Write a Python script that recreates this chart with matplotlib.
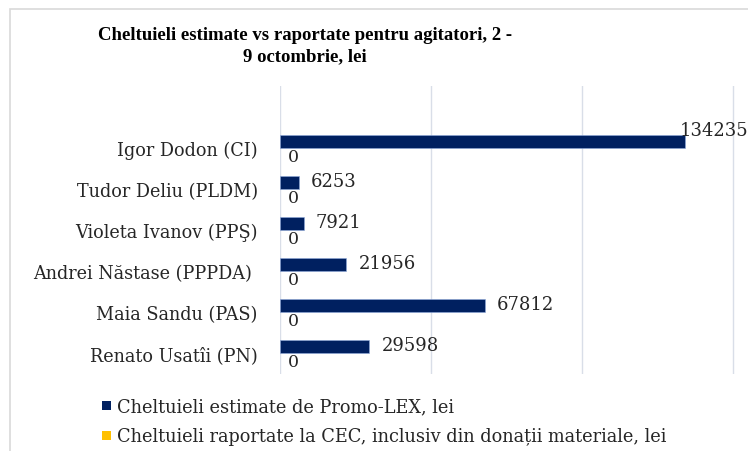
import numpy as np
import matplotlib
matplotlib.use("Agg")
import matplotlib.pyplot as plt
from matplotlib.patches import Rectangle

categories = ["Igor Dodon (CI)", "Tudor Deliu (PLDM)", "Violeta Ivanov (PPŞ)",
              "Andrei Năstase (PPPDA) ", "Maia Sandu (PAS)", "Renato Usatîi (PN)"]
estimate = [134235, 6253, 7921, 21956, 67812, 29598]
reported = [0, 0, 0, 0, 0, 0]
series_names = ["Cheltuieli estimate de Promo-LEX, lei",
                "Cheltuieli raportate la CEC, inclusiv din donații materiale, lei"]
title = "Cheltuieli estimate vs raportate pentru agitatori, 2 -\n9 octombrie, lei"

navy = "#002060"
gold = "#FFC000"
W, H = 748, 452

fig = plt.figure(figsize=(W / 100, H / 100), dpi=100)

# light frame round the chart area
fig.patches.append(Rectangle((10 / W, -0.1), 1.2, 1 - 10 / H + 0.1, transform=fig.transFigure,
                             facecolor="none", edgecolor="#D9D9D9", linewidth=1.2, zorder=0))

ax = fig.add_axes([280 / W, 1 - 375 / H, (W - 280) / W + 0.02, (375 - 87) / H])
ax.set_facecolor("none")

y = np.arange(len(categories))
h = 13 / 41
ax.barh(y - h / 2, estimate, height=h, color=navy, edgecolor="#8EA9DB", linewidth=0.4, zorder=3)
ax.barh(y + h / 2, reported, height=h, color=gold, zorder=3)

ax.set_xlim(0, 50000 * (W - 280 + 15) / 151)
ax.set_ylim(5.51, -1.51)
ax.set_xticks([0, 50000, 100000, 150000])
ax.set_xticklabels([])
ax.tick_params(axis="both", length=0)
ax.grid(axis="x", color="#D9DEE8", linewidth=1)
ax.set_axisbelow(True)
for s in ax.spines.values():
    s.set_visible(False)

ax.set_yticks(y)
ax.set_yticklabels(categories, fontsize=12.7, family="DejaVu Serif", color="#262626")
ax.tick_params(axis="y", pad=16)

for i, v in enumerate(estimate):
    if v > 100000:
        ax.text(v - 2000, i - h / 2 - 0.28, str(v), fontsize=13, family="DejaVu Serif",
                color="#262626", va="center", ha="left", clip_on=False)
    else:
        ax.text(v + 4000, i - h / 2 - 0.03, str(v), fontsize=13, family="DejaVu Serif",
                color="#262626", va="center", ha="left")
for i, v in enumerate(reported):
    ax.text(v + 2500, i + h / 2 + 0.05, str(v), fontsize=12.5, family="DejaVu Serif",
            color="#262626", va="center", ha="left")

fig.text(305 / W, 1 - 46 / H, title, ha="center", va="center", fontsize=13.5,
         fontweight="bold", family="Liberation Serif", linespacing=1.35)

for k, (name, col) in enumerate(zip(series_names, [navy, gold])):
    yy = 1 - (407 + 30 * k) / H
    fig.patches.append(Rectangle((102 / W, yy - 4 / H), 9 / W, 9 / H, transform=fig.transFigure,
                                 facecolor=col, edgecolor="none"))
    fig.text(117 / W, yy, name, ha="left", va="center", fontsize=12.8,
             family="DejaVu Serif", color="#262626")

plt.savefig("out.png", dpi=100)
